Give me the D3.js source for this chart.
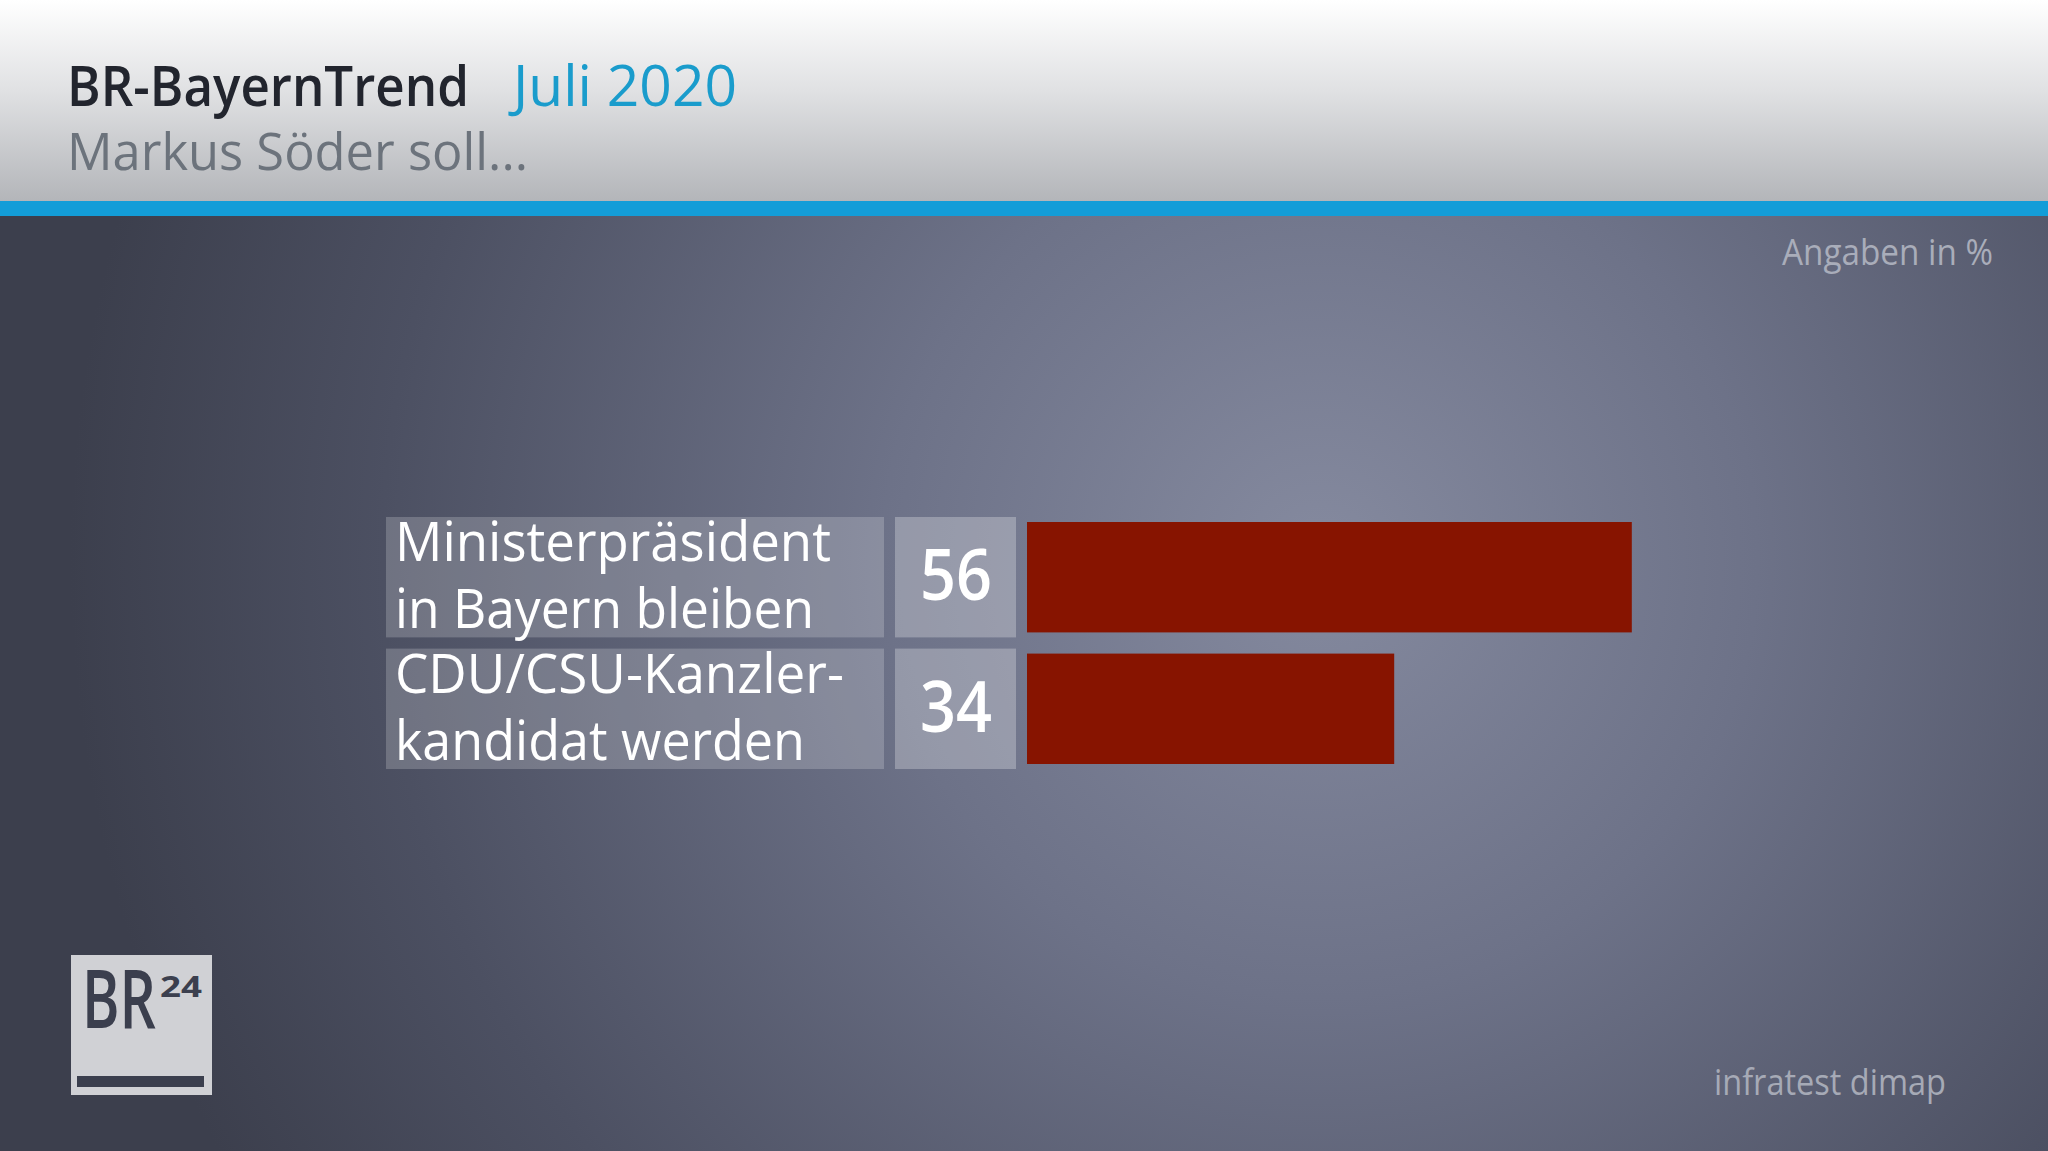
<!DOCTYPE html>
<html>
<head>
<meta charset="utf-8">
<script src="https://cdn.jsdelivr.net/npm/d3@7"></script>
<style>
  html, body { margin:0; padding:0; background:#3f4352; }
  svg { display:block; font-family:"Open Sans", "Noto Sans", sans-serif; }
</style>
</head>
<body>
<div id="chart"></div>
<script>
var width = 2048, height = 1151;

// data
var categories = [["Ministerpräsident", "in Bayern bleiben"], ["CDU/CSU-Kanzler-", "kandidat werden"]];
var values = [56, 34];
var title = "BR-BayernTrend";
var titleDate = "Juli 2020";
var subtitle = "Markus Söder soll...";
var unitNote = "Angaben in %";
var source = "infratest dimap";

// the original typeface is a narrow one, so texts get squeezed to the width they had
var labelWidths = [[436, 419], [449, 410]];

var svg = d3.select('#chart').append('svg')
  .attr('width', width)
  .attr('height', height);

var defs = svg.append('defs');

var head = defs.append('linearGradient').attr('id', 'head')
  .attr('x1', 0).attr('y1', 0).attr('x2', 0).attr('y2', 1);
head.append('stop').attr('offset', '0%').attr('stop-color', '#ffffff');
head.append('stop').attr('offset', '45%').attr('stop-color', '#e0e1e3');
head.append('stop').attr('offset', '100%').attr('stop-color', '#b3b5b9');

var bg = defs.append('radialGradient').attr('id', 'bg')
  .attr('gradientUnits', 'userSpaceOnUse')
  .attr('cx', 1320).attr('cy', 560).attr('r', 1250);
bg.append('stop').attr('offset', '0%').attr('stop-color', '#858a9f');
bg.append('stop').attr('offset', '35%').attr('stop-color', '#6d7288');
bg.append('stop').attr('offset', '75%').attr('stop-color', '#4c5062');
bg.append('stop').attr('offset', '100%').attr('stop-color', '#3c3f4d');

// background
svg.append('rect').attr('x', 0).attr('y', 200).attr('width', width).attr('height', height - 200)
  .style('fill', 'url(#bg)');
svg.append('rect').attr('x', 0).attr('y', 0).attr('width', width).attr('height', 202)
  .style('fill', 'url(#head)');
svg.append('rect').attr('x', 0).attr('y', 201).attr('width', width).attr('height', 15)
  .style('fill', '#139dd8');

function fitText(sel, x, y, txt, len) {
  return sel.append('text')
    .attr('x', x).attr('y', y)
    .attr('textLength', len)
    .attr('lengthAdjust', 'spacingAndGlyphs')
    .text(txt);
}

// header texts
fitText(svg, 67, 106, title, 402)
  .style('font-size', '56px').style('font-weight', 600).style('fill', '#22252e');
fitText(svg, 513, 106, titleDate, 224)
  .style('font-size', '56px').style('font-weight', 500).style('fill', '#1a9ccc');
fitText(svg, 67, 170, subtitle, 461)
  .style('font-size', '51px').style('font-weight', 400).style('fill', '#6c737c');

fitText(svg, 1782, 265, unitNote, 211)
  .style('font-size', '36px').style('fill', '#a9adba');

fitText(svg, 1714, 1095, source, 232)
  .style('font-size', '37px').style('fill', '#a6aab6');

// scales
var y = d3.scaleBand()
  .domain(d3.range(values.length))
  .range([517, 769])
  .paddingInner(0.085);

var x = d3.scaleLinear()
  .domain([0, 100])
  .range([1027, 2107]);

var rows = svg.selectAll('g.row')
  .data(values)
  .enter()
  .append('g')
  .attr('class', 'row')
  .attr('transform', function(d, i) { return 'translate(0,' + y(i) + ')'; });

rows.append('rect')
  .attr('x', 386).attr('y', 0)
  .attr('width', 498).attr('height', y.bandwidth())
  .style('fill', '#ffffff').style('fill-opacity', 0.2);

rows.append('rect')
  .attr('x', 895).attr('y', 0)
  .attr('width', 121).attr('height', y.bandwidth())
  .style('fill', '#ffffff').style('fill-opacity', 0.27);

rows.append('rect')
  .attr('x', x(0)).attr('y', 5)
  .attr('width', function(d) { return x(d) - x(0); })
  .attr('height', y.bandwidth() - 10)
  .style('fill', '#871400');

rows.each(function(d, i) {
  var g = d3.select(this);
  categories[i].forEach(function(line, j) {
    fitText(g, 395, 44 + j * 67, line, labelWidths[i][j])
      .style('font-size', '55px').style('font-weight', 500).style('fill', '#ffffff');
  });
  fitText(g, 920, 83, d, 72)
    .style('font-size', '71px').style('font-weight', 600).style('fill', '#ffffff');
});

// BR24 logo
var logo = svg.append('g');
logo.append('rect').attr('x', 71).attr('y', 955).attr('width', 141).attr('height', 140)
  .style('fill', '#d0d1d5');
fitText(logo, 82, 1028, 'BR', 74)
  .style('font-size', '82px').style('font-weight', 600).style('fill', '#3b3f4e');
fitText(logo, 160, 997, '24', 42)
  .style('font-size', '29px').style('font-weight', 700).style('fill', '#3b3f4e');
logo.append('rect').attr('x', 77).attr('y', 1076).attr('width', 127).attr('height', 11)
  .style('fill', '#3b3f4e');
</script>
</body>
</html>
